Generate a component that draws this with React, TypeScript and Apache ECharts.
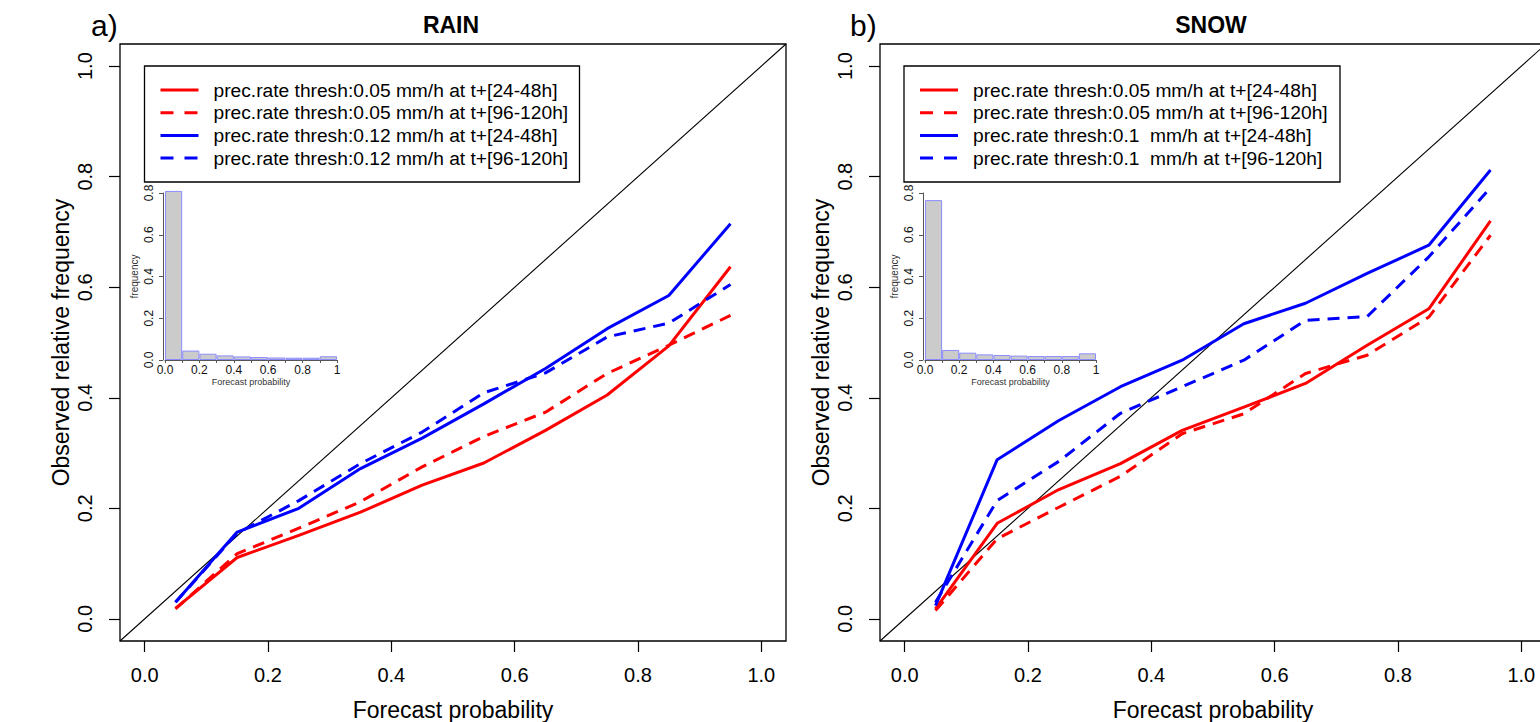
import React, { useEffect, useRef } from "react";
import * as echarts from "echarts";

// ---- data ----
const forecastProb = [0.05, 0.15, 0.25, 0.35, 0.45, 0.55, 0.65, 0.75, 0.85, 0.95];

const rainRed24 = [0.019, 0.111, 0.151, 0.193, 0.242, 0.282, 0.341, 0.405, 0.494, 0.637];
const rainRed96 = [0.018, 0.118, 0.164, 0.212, 0.275, 0.33, 0.374, 0.444, 0.495, 0.549];
const rainBlue24 = [0.03, 0.157, 0.2, 0.272, 0.327, 0.389, 0.453, 0.525, 0.585, 0.715];
const rainBlue96 = [0.03, 0.155, 0.214, 0.281, 0.338, 0.409, 0.445, 0.51, 0.535, 0.605];

const snowRed24 = [0.018, 0.173, 0.234, 0.281, 0.341, 0.383, 0.426, 0.495, 0.561, 0.72];
const snowRed96 = [0.015, 0.145, 0.202, 0.258, 0.335, 0.371, 0.444, 0.477, 0.546, 0.694];
const snowBlue24 = [0.024, 0.288, 0.359, 0.42, 0.468, 0.534, 0.571, 0.625, 0.676, 0.812];
const snowBlue96 = [0.03, 0.214, 0.285, 0.372, 0.42, 0.468, 0.54, 0.547, 0.655, 0.78];

const histBins = ["0.0-0.1", "0.1-0.2", "0.2-0.3", "0.3-0.4", "0.4-0.5", "0.5-0.6", "0.6-0.7", "0.7-0.8", "0.8-0.9", "0.9-1.0"];
const rainHist = [0.81, 0.045, 0.03, 0.022, 0.017, 0.014, 0.012, 0.011, 0.011, 0.018];
const snowHist = [0.766, 0.048, 0.035, 0.027, 0.024, 0.021, 0.019, 0.019, 0.019, 0.032];

const axisRange = [-0.04, 1.04];
const mainTicks = [0, 0.2, 0.4, 0.6, 0.8, 1.0];

const rainNames = [
  "prec.rate thresh:0.05 mm/h at t+[24-48h]",
  "prec.rate thresh:0.05 mm/h at t+[96-120h]",
  "prec.rate thresh:0.12 mm/h at t+[24-48h]",
  "prec.rate thresh:0.12 mm/h at t+[96-120h]",
];
const snowNames = [
  "prec.rate thresh:0.05 mm/h at t+[24-48h]",
  "prec.rate thresh:0.05 mm/h at t+[96-120h]",
  "prec.rate thresh:0.1  mm/h at t+[24-48h]",
  "prec.rate thresh:0.1  mm/h at t+[96-120h]",
];

const FONT = "Liberation Sans, Arial, Helvetica, sans-serif";
const RED = "#ff0000";
const BLUE = "#0000ff";
const DASH = [12, 8];
const lineColors = [RED, RED, BLUE, BLUE];
const lineDashed = [false, true, false, true];

function pairs(ys: number[]) {
  return forecastProb.map((x, i) => [x, ys[i]]);
}

function panel(
  idx: number,
  box: { left: number; top: number; width: number; height: number },
  inset: { left: number; top: number; width: number; height: number },
  lines: number[][],
  names: string[],
  hist: number[]
) {
  const g0 = idx * 2;
  const grids = [
    { ...box, show: true, borderColor: "#000", borderWidth: 1.3, backgroundColor: "transparent" },
    { ...inset, show: false },
  ];
  const xAxes: any[] = [
    {
      type: "value", gridIndex: g0, min: axisRange[0], max: axisRange[1], position: "bottom",
      axisLine: { show: false, onZero: false },
      axisTick: { show: true, length: 11, customValues: mainTicks, lineStyle: { color: "#000", width: 1.2 } },
      splitLine: { show: false },
      axisLabel: { fontSize: 20, color: "#000", margin: 24, fontFamily: FONT, customValues: mainTicks, formatter: (v: number) => v.toFixed(1) },
      name: "Forecast probability", nameLocation: "middle", nameGap: 57,
      nameTextStyle: { fontSize: 23, color: "#000", fontFamily: FONT },
    },
    { type: "category", gridIndex: g0 + 1, data: histBins, show: false, boundaryGap: true, position: "bottom", axisLine: { onZero: false } },
    {
      type: "value", gridIndex: g0 + 1, min: 0, max: 1, interval: 0.1, position: "bottom",
      axisLine: { show: true, onZero: false, lineStyle: { color: "#555", width: 1 } },
      axisTick: { show: true, length: 3, lineStyle: { color: "#555" } },
      splitLine: { show: false },
      axisLabel: {
        fontSize: 12, color: "#111", margin: 4, fontFamily: FONT,
        formatter: (v: number) => {
          const k = Math.round(v * 10);
          if (k % 2 !== 0) return "";
          return k === 10 ? "1" : (k / 10).toFixed(1);
        },
      },
      name: "Forecast probability", nameLocation: "middle", nameGap: 17,
      nameTextStyle: { fontSize: 9, color: "#333", fontFamily: FONT },
    },
  ];
  const yAxes: any[] = [
    {
      type: "value", gridIndex: g0, min: axisRange[0], max: axisRange[1], position: "left",
      axisLine: { show: false, onZero: false },
      axisTick: { show: true, length: 11, customValues: mainTicks, lineStyle: { color: "#000", width: 1.2 } },
      splitLine: { show: false },
      axisLabel: { fontSize: 20, color: "#000", margin: 25, rotate: 90, fontFamily: FONT, customValues: mainTicks, formatter: (v: number) => v.toFixed(1) },
      name: "Observed relative frequency", nameLocation: "middle", nameGap: 48, nameRotate: 90,
      nameTextStyle: { fontSize: 23, color: "#000", fontFamily: FONT },
    },
    {
      type: "value", gridIndex: g0 + 1, min: 0, max: 0.8, interval: 0.2, offset: 2, position: "left",
      axisLine: { show: true, onZero: false, lineStyle: { color: "#555", width: 1 } },
      axisTick: { show: true, length: 4, lineStyle: { color: "#555" } },
      splitLine: { show: false },
      axisLabel: { fontSize: 12, color: "#111", margin: 8, rotate: 90, fontFamily: FONT, formatter: (v: number) => v.toFixed(1) },
      name: "frequency", nameLocation: "middle", nameGap: 24, nameRotate: 90,
      nameTextStyle: { fontSize: 10, color: "#333", fontFamily: FONT },
    },
  ];
  const series: any[] = [
    {
      type: "line", xAxisIndex: idx * 3, yAxisIndex: g0, symbol: "none", silent: true,
      data: [[axisRange[0], axisRange[0]], [axisRange[1], axisRange[1]]],
      lineStyle: { color: "#000", width: 1.1 }, z: 2,
    },
    ...lines.map((ys, i) => ({
      type: "line", name: names[i], xAxisIndex: idx * 3, yAxisIndex: g0,
      symbol: "none", data: pairs(ys), z: 3,
      lineStyle: { color: lineColors[i], width: 3, type: lineDashed[i] ? DASH : "solid" },
    })),
    {
      type: "bar", xAxisIndex: idx * 3 + 1, yAxisIndex: g0 + 1, data: hist, barWidth: "100%",
      clip: false,
      itemStyle: { color: "#cbcbcb", borderColor: "#8c8cff", borderWidth: 1 },
    },
  ];
  return { grids, xAxes, yAxes, series };
}

function legendGraphic(left: number, top: number, width: number, names: string[]) {
  const rows = [90, 112.7, 135.4, 158.1];
  const els: any[] = [
    { type: "rect", shape: { x: left, y: top, width, height: 116 }, style: { fill: "none", stroke: "#000", lineWidth: 1.3 } },
  ];
  names.forEach((n, i) => {
    els.push({
      type: "line",
      shape: { x1: left + 16, y1: rows[i], x2: left + 54, y2: rows[i] },
      style: { stroke: lineColors[i], lineWidth: 3, lineDash: lineDashed[i] ? [13, 11] : null },
    });
    els.push({
      type: "text", x: left + 69, y: rows[i],
      style: { text: n, fill: "#000", font: `19.2px ${FONT}`, align: "left", verticalAlign: "middle", textAlign: "left", textVerticalAlign: "middle" },
    });
  });
  return els;
}

export default function App() {
  const ref = useRef<HTMLDivElement>(null);
  useEffect(() => {
    if (!ref.current) return;
    const chart = echarts.init(ref.current, undefined, { renderer: "svg" });
    const a = panel(
      0,
      { left: 120, top: 44, width: 666, height: 597 },
      { left: 165, top: 193, width: 172, height: 167 },
      [rainRed24, rainRed96, rainBlue24, rainBlue96],
      rainNames,
      rainHist
    );
    const b = panel(
      1,
      { left: 880, top: 44, width: 666, height: 597 },
      { left: 925, top: 193, width: 171, height: 167 },
      [snowRed24, snowRed96, snowBlue24, snowBlue96],
      snowNames,
      snowHist
    );
    const textEl = (x: number, y: number, text: string, font: string, align = "left") => ({
      type: "text", x, y,
      style: { text, fill: "#000", font, align, verticalAlign: "middle", textAlign: align, textVerticalAlign: "middle" },
    });
    const option: any = {
      animation: false,
      backgroundColor: "#fff",
      textStyle: { fontFamily: FONT },
      grid: [...a.grids, ...b.grids].map((g) => ({ ...g, containLabel: false, outerBoundsMode: "none" })),
      xAxis: [...a.xAxes, ...b.xAxes],
      yAxis: [...a.yAxes, ...b.yAxes],
      series: [...a.series, ...b.series],
      graphic: [
        ...legendGraphic(144.5, 66, 435, rainNames),
        ...legendGraphic(904, 66, 436, snowNames),
        textEl(91, 25, "a)", `30px ${FONT}`),
        textEl(850, 25, "b)", `30px ${FONT}`),
        textEl(451, 25, "RAIN", `bold 23px ${FONT}`, "center"),
        textEl(1211, 25, "SNOW", `bold 23px ${FONT}`, "center"),
      ],
    };
    chart.setOption(option);
    return () => chart.dispose();
  }, []);
  return (
    <div
      ref={ref}
      style={{ position: "absolute", left: 0, top: 0, width: 1540, height: 722, background: "#fff" }}
    />
  );
}
